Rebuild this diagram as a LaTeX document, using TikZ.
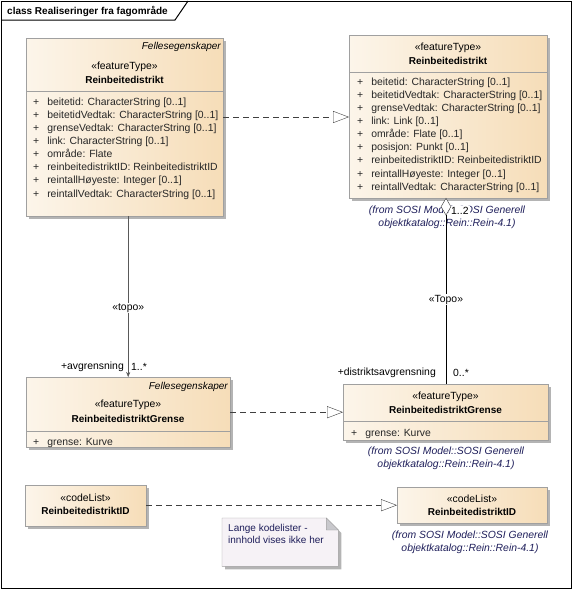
\documentclass[tikz,border=0pt]{standalone}
\usepackage{fontspec}
\setmainfont{Liberation Sans}
\usetikzlibrary{arrows.meta,shapes.geometric,shadows,calc}
\definecolor{boxleft}{HTML}{FCF5EA}
\definecolor{boxright}{HTML}{F6DDB8}
\definecolor{boxline}{HTML}{A0A0A0}
\definecolor{shadowgray}{HTML}{B4B4B4}
\definecolor{notefill}{HTML}{F6F2F6}
\definecolor{foldgray}{HTML}{C8C8CC}
\definecolor{fromtext}{HTML}{1E1E5A}
\tikzset{%
umlclass/.style={draw=boxline, left color=boxleft, right color=boxright,
  anchor=north west, inner sep=0pt,
  drop shadow={shadow xshift=3pt, shadow yshift=-3pt, fill=shadowgray, opacity=1}},
stereo/.style={inner sep=0pt},
clsname/.style={inner sep=0pt, font=\bfseries},
pkgname/.style={inner sep=0pt, anchor=east, font=\itshape},
attrs/.style={inner sep=0pt, anchor=base west, text=black!85},
fromlbl/.style={inner sep=0pt, align=center, text=fromtext,
  font=\itshape\fontsize{10.4}{13}\selectfont},
role/.style={inner sep=0pt},
realize/.style={draw=black!75, dash pattern=on 6pt off 4pt,
  -{Triangle[open, fill=white, length=16pt, width=12pt]}},
}
\newcommand{\attrtab}[1]{\begin{tabular}[t]{@{}l@{\hspace{8pt}}l@{}}#1\end{tabular}}

\begin{document}
\begin{tikzpicture}[x=1pt, y=-1pt, font=\fontsize{10.4}{13.15}\selectfont]
\useasboundingbox (0,0) rectangle (573,590);
% frame
\draw[line width=1pt] (1,1) rectangle (571,588);
\draw[line width=1pt] (1,20) -- (175,20) -- (188,1);
\node[anchor=west, inner sep=0pt, font=\bfseries] (title) at (7,11) {class Realiseringer fra fagområde};

% Reinbeitedistrikt (Fellesegenskaper)
\node[umlclass, minimum width=197pt, minimum height=178pt] (clsA) at (26,38) {};
\node[pkgname] (pkgA) at (221,47) {Fellesegenskaper};
\node[stereo] (stA) at (124.5,67) {«featureType»};
\node[clsname] (nmA) at (124.5,80) {Reinbeitedistrikt};
\draw[boxline] (clsA.west |- 0,91) -- (clsA.east |- 0,91);
\node[attrs] (atA) at (33,105) {\attrtab{%
 + & beitetid: CharacterString [0..1]\\
 + & beitetidVedtak: CharacterString [0..1]\\
 + & grenseVedtak: CharacterString [0..1]\\
 + & link: CharacterString [0..1]\\
 + & område: Flate\\
 + & reinbeitedistriktID: ReinbeitedistriktID\\
 + & reintallHøyeste: Integer [0..1]\\
 + & reintallVedtak: CharacterString [0..1]}};

% Reinbeitedistrikt (SOSI)
\node[umlclass, minimum width=198pt, minimum height=163pt] (clsB) at (349,35) {};
\node[stereo] (stB) at (448,48) {«featureType»};
\node[clsname] (nmB) at (448,61) {Reinbeitedistrikt};
\draw[boxline] (clsB.west |- 0,72) -- (clsB.east |- 0,72);
\node[attrs] (atB) at (357,85) {\attrtab{%
 + & beitetid: CharacterString [0..1]\\
 + & beitetidVedtak: CharacterString [0..1]\\
 + & grenseVedtak: CharacterString [0..1]\\
 + & link: Link [0..1]\\
 + & område: Flate [0..1]\\
 + & posisjon: Punkt [0..1]\\
 + & reinbeitedistriktID: ReinbeitedistriktID\\
 + & reintallHøyeste: Integer [0..1]\\
 + & reintallVedtak: CharacterString [0..1]}};
\node[fromlbl] (fromB) at (447,217.5) {(from SOSI Model::SOSI Generell\\objektkatalog::Rein::Rein-4.1)};

% ReinbeitedistriktGrense (Fellesegenskaper)
\node[umlclass, minimum width=204pt, minimum height=70pt] (clsC) at (26,377) {};
\node[pkgname] (pkgC) at (228,387) {Fellesegenskaper};
\node[stereo] (stC) at (128,405) {«featureType»};
\node[clsname] (nmC) at (128,419) {ReinbeitedistriktGrense};
\draw[boxline] (clsC.west |- 0,431) -- (clsC.east |- 0,431);
\node[attrs] (atC) at (33,445) {\attrtab{+ & grense: Kurve}};

% ReinbeitedistriktGrense (SOSI)
\node[umlclass, minimum width=205pt, minimum height=56pt] (clsD) at (343,384) {};
\node[stereo] (stD) at (445.5,397) {«featureType»};
\node[clsname] (nmD) at (445.5,410) {ReinbeitedistriktGrense};
\draw[boxline] (clsD.west |- 0,421) -- (clsD.east |- 0,421);
\node[attrs] (atD) at (351,436) {\attrtab{+ & grense: Kurve}};
\node[fromlbl] (fromD) at (446,458.5) {(from SOSI Model::SOSI Generell\\objektkatalog::Rein::Rein-4.1)};

% code lists
\node[umlclass, minimum width=121pt, minimum height=41pt] (clsE) at (25,485) {};
\node[stereo] (stE) at (85.5,498) {«codeList»};
\node[clsname] (nmE) at (85.5,511) {ReinbeitedistriktID};
\node[umlclass, minimum width=150pt, minimum height=36pt] (clsF) at (397,487) {};
\node[stereo] (stF) at (472,499) {«codeList»};
\node[clsname] (nmF) at (472,512) {ReinbeitedistriktID};
\node[fromlbl] (fromF) at (470,542.5) {(from SOSI Model::SOSI Generell\\objektkatalog::Rein::Rein-4.1)};

% note
\node[minimum width=116pt, minimum height=48pt, inner sep=0pt, anchor=north west] (note) at (222,518) {};
\fill[shadowgray] ($(note.north west)+(3,3)$) -- ($(note.north east)+(-9,3)$) -- ($(note.north east)+(3,15)$)
  -- ($(note.south east)+(3,3)$) -- ($(note.south west)+(3,3)$) -- cycle;
\filldraw[fill=notefill, draw=boxline] (note.north west) -- ($(note.north east)+(-12,0)$) -- ($(note.north east)+(0,12)$)
  -- (note.south east) -- (note.south west) -- cycle;
\filldraw[fill=foldgray, draw=boxline] ($(note.north east)+(-12,0)$) -- ($(note.north east)+(-12,12)$) -- ($(note.north east)+(0,12)$) -- cycle;
\node[anchor=base west, align=left, inner sep=0pt, text=fromtext, font=\fontsize{10}{12}\selectfont] (notetxt) at (228,543) {Lange kodelister -\\innhold vises ikke her};

% realisations
\draw[realize] (clsA.east |- 0,117) -- (clsB.west |- 0,117);
\draw[realize] (clsC.east) -- (clsD.west);
\draw[realize] (clsE.east |- clsF.west) -- (clsF.west);

% topo associations
\draw[draw=black!65, -{Stealth[length=5pt, width=4pt]}] (clsC.north |- clsA.south) -- node[pos=0.57, fill=white, inner sep=1pt] (topoA) {«topo»} (clsC.north);
\node[role, anchor=east] (rolA) at (124,367) {+avgrensning};
\node[role, anchor=west] (mulA) at (131,367) {1..*};

\node[anchor=west, fill=white, inner sep=1pt] (mulB) at (450,211) {1..2};
\node[diamond, draw=black!80, fill=white, inner sep=0pt, minimum width=10pt, minimum height=17pt, anchor=north] (agg) at (446,198) {};
\draw[black] (agg.south) -- node[pos=0.5, fill=white, inner sep=1pt] (topoB) {«Topo»} (agg.south |- clsD.north);
\node[role, anchor=east] (rolB) at (436,373) {+distriktsavgrensning};
\node[role, anchor=west] (mulD) at (453,373) {0..*};
\end{tikzpicture}
\end{document}
